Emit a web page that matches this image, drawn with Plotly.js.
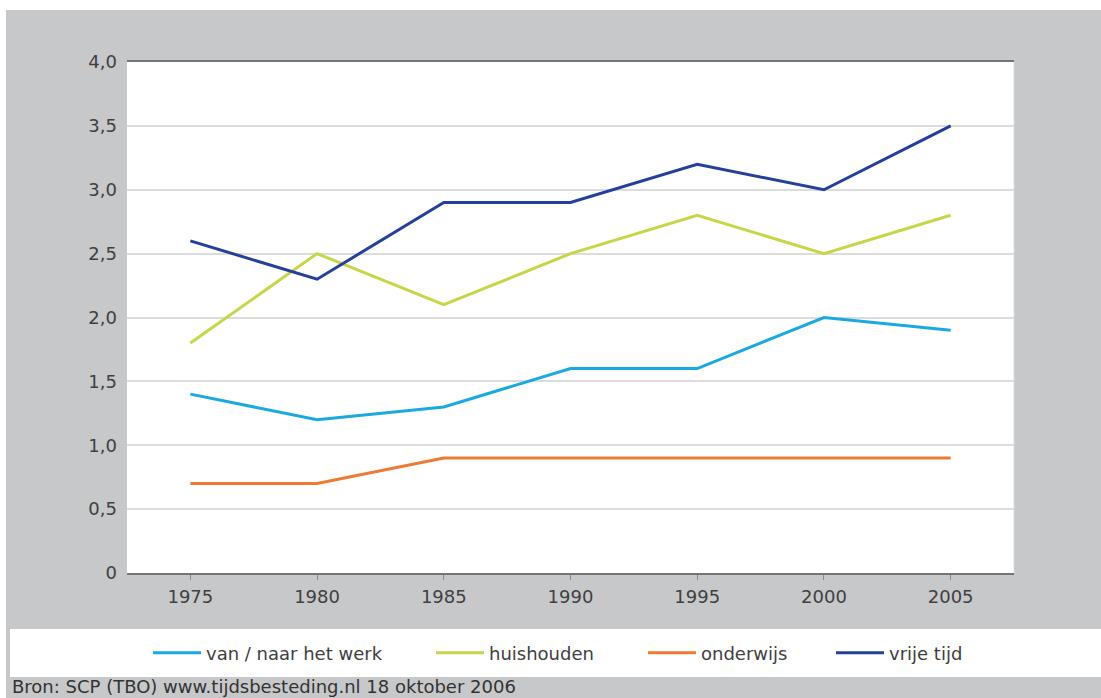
<!DOCTYPE html>
<html>
<head>
<meta charset="utf-8">
<script src="https://cdn.plot.ly/plotly-3.0.1.min.js"></script>
<style>
  html, body { margin: 0; padding: 0; background: #ffffff; }
  #chart { width: 1101px; height: 698px; }
</style>
</head>
<body>
<div id="chart"></div>
<script>
const years = ['1975', '1980', '1985', '1990', '1995', '2000', '2005'];
const seriesNames = ['van / naar het werk', 'huishouden', 'onderwijs', 'vrije tijd'];
const werk = [1.4, 1.2, 1.3, 1.6, 1.6, 2.0, 1.9];
const huishouden = [1.8, 2.5, 2.1, 2.5, 2.8, 2.5, 2.8];
const onderwijs = [0.7, 0.7, 0.9, 0.9, 0.9, 0.9, 0.9];
const vrijeTijd = [2.6, 2.3, 2.9, 2.9, 3.2, 3.0, 3.5];
const yTickVals = [0, 0.5, 1, 1.5, 2, 2.5, 3, 3.5, 4];
const yTickText = ['0', '0,5', '1,0', '1,5', '2,0', '2,5', '3,0', '3,5', '4,0'];
const sourceText = 'Bron: SCP (TBO) www.tijdsbesteding.nl 18 oktober 2006';

const colors = ['#1aa9e1', '#c7d548', '#ee7a35', '#24409a'];
const values = [werk, huishouden, onderwijs, vrijeTijd];
const legendIds = ['legend', 'legend2', 'legend3', 'legend4'];

const traces = values.map((v, i) => ({
  x: years,
  y: v,
  type: 'scatter',
  mode: 'lines',
  name: seriesNames[i],
  legend: legendIds[i],
  line: { color: colors[i], width: 3 }
}));

// plot area pixel geometry
const W = 1101, H = 698;
const L = 127, R = 1014, T = 62, B = 573;
const pw = R - L, ph = B - T;
const px = x => (x - L) / pw;
const py = y => (B - y) / ph;

const fam = 'DejaVu Sans, Verdana, sans-serif';
const fs = 18;
const font = { family: fam, size: fs, color: '#404040' };

// legend entry origins (pixels)
const legendLeft = [148, 431, 643, 831];

const layout = {
  width: W,
  height: H,
  margin: { l: L, r: W - R, t: T, b: H - B, pad: 0 },
  paper_bgcolor: '#c7c8ca',
  plot_bgcolor: '#ffffff',
  font: font,
  showlegend: true,
  xaxis: {
    type: 'category',
    range: [-0.5, 6.5],
    showgrid: false,
    zeroline: false,
    showline: true,
    linecolor: '#757575',
    linewidth: 2,
    mirror: true,
    ticks: 'outside',
    ticklen: 5,
    tickwidth: 1,
    tickcolor: '#8a8a8a',
    ticklabelstandoff: 1,
    tickfont: { family: fam, size: fs, color: '#404040' }
  },
  yaxis: {
    range: [0, 4],
    tickvals: yTickVals,
    ticktext: yTickText,
    showgrid: true,
    gridcolor: '#dcdcdc',
    gridwidth: 2,
    zeroline: false,
    showline: false,
    ticks: '',
    ticklabelstandoff: 9,
    tickfont: { family: fam, size: fs, color: '#404040' }
  },
  shapes: [
    { type: 'rect', xref: 'paper', yref: 'paper', layer: 'below',
      x0: px(0), x1: px(W), y0: py(10), y1: py(-5),
      fillcolor: '#ffffff', line: { width: 0 } },
    { type: 'rect', xref: 'paper', yref: 'paper', layer: 'below',
      x0: px(-5), x1: px(6), y0: py(H + 5), y1: py(-5),
      fillcolor: '#ffffff', line: { width: 0 } },
    { type: 'rect', xref: 'paper', yref: 'paper', layer: 'below',
      x0: px(10), x1: px(W + 5), y0: py(677), y1: py(629),
      fillcolor: '#ffffff', line: { width: 0 } },
    { type: 'line', xref: 'paper', yref: 'paper', layer: 'above',
      x0: 1, x1: 1, y0: 0, y1: 1,
      line: { color: '#dcdcdc', width: 1 } }
  ],
  annotations: [
    { text: sourceText, xref: 'paper', yref: 'paper',
      x: px(10), xanchor: 'left', y: py(687), yanchor: 'middle',
      showarrow: false,
      font: { family: fam, size: fs, color: '#333333' } }
  ]
};

legendIds.forEach((id, i) => {
  layout[id] = {
    orientation: 'h',
    x: px(legendLeft[i]), xanchor: 'left',
    y: py(653), yanchor: 'middle',
    bgcolor: 'rgba(0,0,0,0)',
    borderwidth: 0,
    font: { family: fam, size: fs, color: '#404040' },
    itemwidth: 48
  };
});

Plotly.newPlot('chart', traces, layout, { displayModeBar: false, staticPlot: true });
</script>
</body>
</html>
